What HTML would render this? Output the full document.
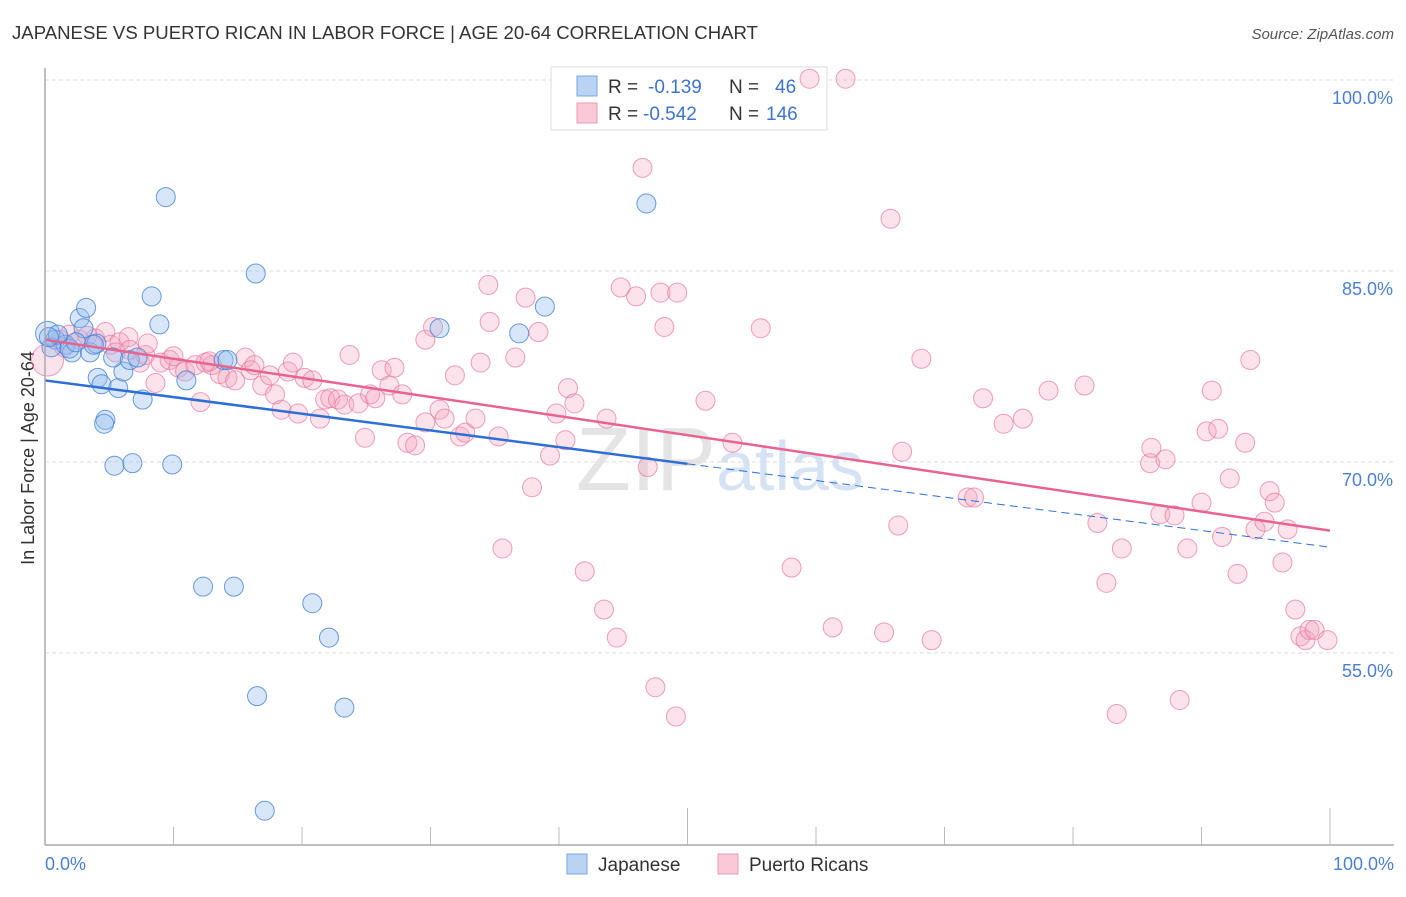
<!DOCTYPE html>
<html><head><meta charset="utf-8"><style>
body{margin:0;background:#fff;font-family:"Liberation Sans",sans-serif;}
svg text{font-family:"Liberation Sans",sans-serif;}
</style></head><body>
<svg id="c" width="1406" height="892" viewBox="0 0 1406 892" xmlns="http://www.w3.org/2000/svg">
<text x="12" y="39" font-size="18.6" fill="#333">JAPANESE VS PUERTO RICAN IN LABOR FORCE | AGE 20-64 CORRELATION CHART</text>
<text x="1394" y="39" font-size="15" fill="#555" font-style="italic" text-anchor="end">Source: ZipAtlas.com</text>
<text x="720" y="490" font-size="90" fill="#e4e4e4" text-anchor="middle" font-family="Liberation Serif">ZIP<tspan fill="#d6e3f4" font-family="Liberation Sans" font-size="70">atlas</tspan></text>
<text transform="translate(34,458) rotate(-90)" font-size="18" fill="#333" text-anchor="middle">In Labor Force | Age 20-64</text>
<g id="grid"></g><g id="ticks"></g>
<g>
<rect x="551" y="67" width="276" height="63" fill="#fff" stroke="#ddd"/>
<rect x="577" y="76" width="20" height="20" fill="#b9d3f3" stroke="#7aa6e0"/>
<rect x="577" y="103" width="20" height="20" fill="#f9c9d8" stroke="#eb9ab5"/>
<text x="608" y="93" font-size="19" fill="#333">R =</text><text x="648" y="93" font-size="19" fill="#3d74d0">-0.139</text>
<text x="729" y="93" font-size="19" fill="#333">N =</text><text x="775" y="93" font-size="19" fill="#3d74d0">46</text>
<text x="608" y="120" font-size="19" fill="#333">R =</text><text x="643" y="120" font-size="19" fill="#3d74d0">-0.542</text>
<text x="729" y="120" font-size="19" fill="#333">N =</text><text x="766" y="120" font-size="19" fill="#3d74d0">146</text>
</g>
<g id="pts"></g><g id="lines"></g>
<line x1="45" y1="68" x2="45" y2="845" stroke="#aaa" stroke-width="1.5"/>
<line x1="45" y1="845" x2="1394" y2="845" stroke="#aaa" stroke-width="1.5"/>
<text x="45" y="870" font-size="18" fill="#4a7fd4">0.0%</text>
<text x="1394" y="870" font-size="18" fill="#4a7fd4" text-anchor="end">100.0%</text>
<g>
<rect x="567" y="854" width="20" height="20" fill="#b9d3f3" stroke="#7aa6e0"/>
<text x="598" y="871" font-size="19" fill="#333">Japanese</text>
<rect x="718" y="854" width="20" height="20" fill="#f9c9d8" stroke="#eb9ab5"/>
<text x="749" y="871" font-size="19" fill="#333">Puerto Ricans</text>
</g>
</svg>
<script>
const yTicks=[100,85,70,55];
const xTicks=[0,10,20,30,40,50,60,70,80,90,100];
const japX=[0.2,0.8,1.6,2.1,1.9,2.7,3.2,3.0,3.5,4.0,4.1,4.4,4.7,4.6,5.7,6.1,5.3,5.4,6.8,6.6,7.2,7.6,8.3,8.9,9.4,9.9,11.0,12.3,13.9,14.2,14.7,16.4,16.5,17.1,20.8,22.1,23.3,30.7,36.9,38.9,46.8,0.5,1.0,2.4,3.8,0.3];
const japY=[80.1,79.6,79.2,78.6,78.9,81.3,82.1,80.5,78.6,79.3,76.6,76.1,73.3,73.0,75.8,77.1,78.2,69.7,69.9,78.0,78.2,74.9,83.0,80.8,90.8,69.8,76.4,60.2,78.0,78.0,60.2,84.8,51.6,42.6,58.9,56.2,50.7,80.5,80.1,82.2,90.3,79.0,80.0,79.4,79.2,79.8];
const prX=[0.2,1.2,1.9,2.7,3.9,4.7,5.1,5.8,6.5,6.6,7.4,7.8,8.6,9.0,9.7,10.4,10.9,11.7,12.1,12.5,13.0,13.6,14.2,14.8,15.6,16.0,16.3,16.9,17.5,17.9,18.4,18.9,19.3,19.7,20.2,20.8,21.4,21.8,22.2,22.8,23.3,23.7,24.4,24.9,25.3,25.7,26.2,26.8,27.2,27.8,28.2,28.8,29.6,29.6,30.2,30.7,31.1,31.9,32.3,32.7,33.5,33.9,34.5,34.6,35.3,35.6,36.6,37.4,37.9,38.4,39.3,39.8,40.5,40.7,41.2,42.0,43.5,43.7,44.5,44.8,46.0,46.5,46.9,47.5,47.9,48.2,49.1,49.2,51.4,53.5,55.7,58.1,61.3,62.3,59.5,65.3,65.8,66.4,66.7,68.2,69.0,71.8,72.3,73.0,74.6,76.1,78.1,80.9,81.9,82.6,83.4,83.8,86.0,86.1,87.2,86.8,87.9,88.3,88.9,90.0,90.4,90.8,91.3,91.6,92.2,92.8,93.4,93.8,94.2,94.9,95.3,95.7,96.3,96.7,97.3,97.7,98.1,98.4,98.8,99.8,1.5,3.3,5.5,8.0,10.0,12.8];
const prY=[78.0,79.6,80.0,79.6,79.7,80.2,79.2,79.4,79.8,78.8,77.8,78.4,76.2,77.8,78.0,77.4,77.1,77.6,74.7,77.8,77.6,76.9,76.6,76.4,78.2,77.2,77.6,76.0,76.8,75.3,74.1,77.1,77.8,73.8,76.6,76.4,73.4,74.9,75.0,74.9,74.5,78.4,74.6,71.9,75.3,75.0,77.2,76.0,77.4,75.3,71.5,71.3,73.1,79.6,80.6,74.1,73.4,76.8,72.0,72.3,73.4,77.8,83.9,81.0,72.0,63.2,78.2,82.9,68.0,80.2,70.5,73.8,71.7,75.8,74.6,61.4,58.4,73.4,56.2,83.7,83.0,93.1,69.6,52.3,83.3,80.6,50.0,83.3,74.8,71.5,80.5,61.7,57.0,100.1,100.1,56.6,89.1,65.0,70.8,78.1,56.0,67.2,67.2,75.0,73.0,73.4,75.6,76.0,65.2,60.5,50.2,63.2,69.9,71.1,70.2,65.9,65.8,51.3,63.2,66.8,72.4,75.6,72.6,64.1,68.7,61.2,71.5,78.0,64.7,65.3,67.7,66.8,62.1,64.7,58.4,56.3,56.0,56.8,56.8,56.0,79.0,79.9,78.6,79.3,78.3,77.9];
const japTrend=[76.4,63.3];
const prTrend=[79.6,64.6];
const NS='http://www.w3.org/2000/svg';
const X=v=>45+v*12.85;
const Y=v=>80+(100-v)*12.73;
function mk(tag,attrs,parent){const e=document.createElementNS(NS,tag);for(const k in attrs)e.setAttribute(k,attrs[k]);document.getElementById(parent).appendChild(e);return e;}
yTicks.forEach(t=>{
 const l=mk('line',{x1:45,x2:1394,y1:Y(t),y2:Y(t),stroke:'#ddd','stroke-dasharray':'4,3'},'grid');
 
 
 const tx=mk('text',{x:1393,y:Y(t)+24,'font-size':18,fill:'#4a7fd4','text-anchor':'end'},'grid');
 tx.textContent=t.toFixed(1)+'%';
 
 
});
xTicks.forEach(t=>{
 const major=(t%50===0);
 const l=mk('line',{x1:X(t),x2:X(t),y1:major?808:827,y2:845,stroke:'#bbb'},'ticks');
 
 
});
prX.forEach((v,i)=>{
 const c=mk('circle',{cx:X(v),cy:Y(prY[i]),r:i===0?16:9.5,fill:'rgba(244,165,192,0.32)',stroke:'rgba(232,120,158,0.7)','stroke-width':1},'pts');
 
 
});
japX.forEach((v,i)=>{
 const c=mk('circle',{cx:X(v),cy:Y(japY[i]),r:i===0?12:9.5,fill:'rgba(150,190,240,0.38)',stroke:'rgba(70,130,215,0.8)','stroke-width':1},'pts');
 
 
});
const jm=v=>japTrend[0]+(japTrend[1]-japTrend[0])*v/100;
let l1=mk('line',{x1:X(0),y1:Y(jm(0)),x2:X(50),y2:Y(jm(50)),stroke:'#2e6fd6','stroke-width':2.5},'lines');


let l2=mk('line',{x1:X(50),y1:Y(jm(50)),x2:X(100),y2:Y(jm(100)),stroke:'#2e6fd6','stroke-width':1,'stroke-dasharray':'8,5'},'lines');


let l3=mk('line',{x1:X(0),y1:Y(prTrend[0]),x2:X(100),y2:Y(prTrend[1]),stroke:'#e8648f','stroke-width':2.5},'lines');


</script>
</body></html>
